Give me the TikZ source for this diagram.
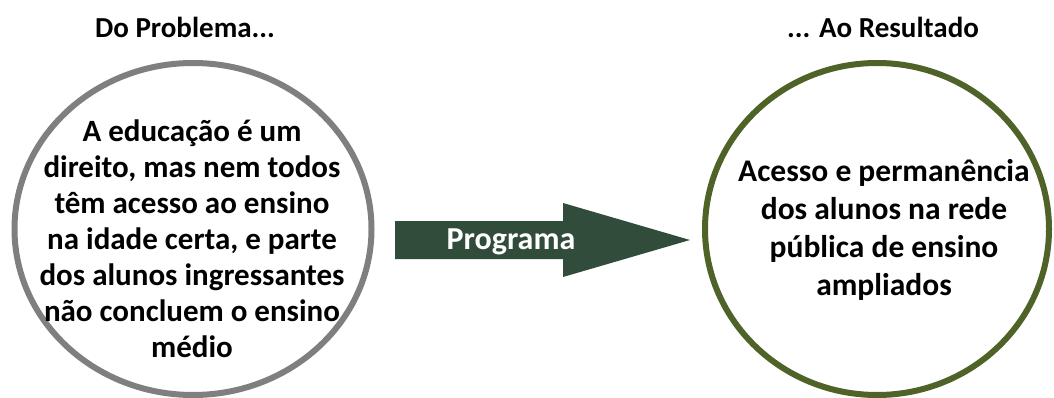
\documentclass[tikz,border=0pt]{standalone}
\usepackage{fontspec}
\setmainfont{Carlito}
\usetikzlibrary{shapes.geometric}

\definecolor{probgray}{HTML}{7F7F7F}
\definecolor{resgreen}{HTML}{4F6228}
\definecolor{arrowgreen}{HTML}{324C3C}

\begin{document}
\begin{tikzpicture}[x=1pt, y=-1pt, outer sep=0pt]

\tikzstyle{bubble}=[draw, ellipse, line width=6pt, inner sep=0pt]
\tikzstyle{heading}=[font=\fontsize{29}{32}\selectfont\bfseries]
\tikzstyle{bubbletext}=[align=center, font=\fontsize{31}{36}\selectfont\bfseries]

\useasboundingbox (0,0) rectangle (1054,398);

\node[bubble, draw=probgray, minimum width=357pt, minimum height=332pt] (prob) at (193,229) {};
\node[bubble, draw=resgreen, minimum width=344pt, minimum height=332pt] (res) at (877,229) {};

\node[heading] (probtitle) at (185,27) {Do Problema...};
\node[heading] (restitle) at (883,27) {... Ao Resultado};

\node[bubbletext] (probtext) at (192,239) {A educação é um\\direito, mas nem todos\\têm acesso ao ensino\\na idade certa, e parte\\dos alunos ingressantes\\não concluem o ensino\\médio};
\node[bubbletext, font=\fontsize{31.5}{38}\selectfont\bfseries] (restext) at (884,230) {Acesso e permanência\\dos alunos na rede\\pública de ensino\\ampliados};

\fill[arrowgreen] (395,221) -- (563,221) -- (563,203) -- (690,240) -- (563,277) -- (563,259) -- (395,259) -- cycle;
\node[text=white, font=\fontsize{32}{34}\selectfont\bfseries] (prog) at (511,242) {Programa};

\end{tikzpicture}
\end{document}
